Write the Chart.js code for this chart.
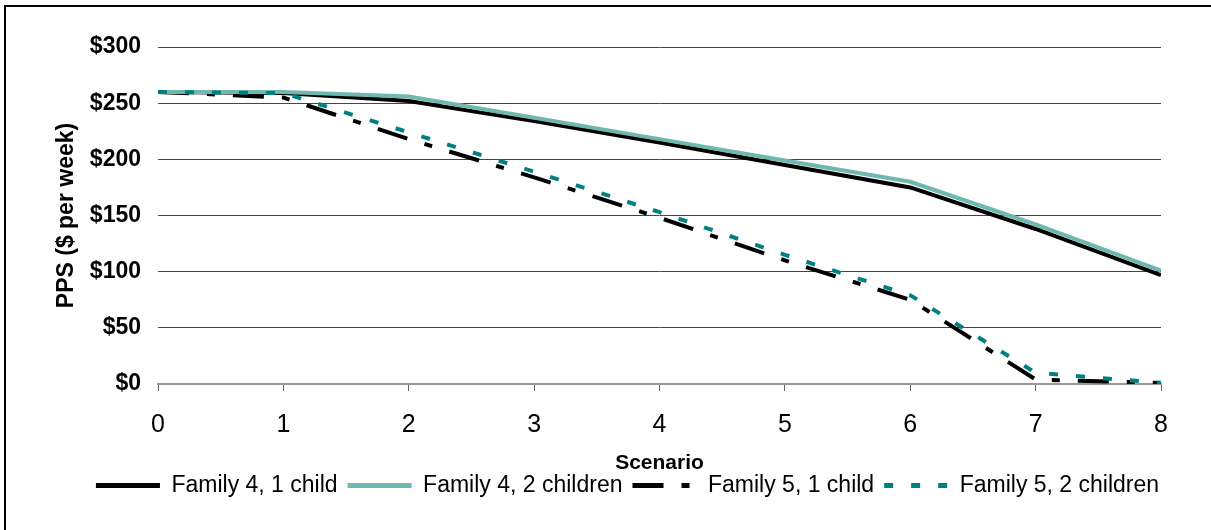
<!DOCTYPE html>
<html>
<head>
<meta charset="utf-8">
<script src="https://cdn.jsdelivr.net/npm/chart.js@4"></script>
<style>
    html, body { margin: 0; padding: 0; background: #fff; }
    #wrap { position: relative; width: 1211px; height: 530px; overflow: hidden; }
    #frame {
        position: absolute; left: 4px; top: 5px; width: 1300px; height: 600px;
        border-left: 2px solid #000; border-top: 2px solid #000;
    }
    canvas { position: absolute; left: 0; top: 0; }
</style>
</head>
<body>
<div id="wrap">
    <div id="frame"></div>
    <canvas id="ppsChart" width="1211" height="530"></canvas>
</div>
<script>
// Scenario numbers on the x axis
const scenarios = [0, 1, 2, 3, 4, 5, 6, 7, 8];

// PPS ($ per week)
const family4OneChild = [260, 259, 252, 234, 215, 195, 175, 138, 97];
const family4TwoChildren = [260, 260, 256, 237, 218, 199, 180, 142, 101];
const family5OneChild = [260, 255, 218, 184, 148, 110, 75, 4, 1];
const family5TwoChildren = [260, 259, 224, 189, 153, 115, 79, 10, 1];

const yTicks = [0, 50, 100, 150, 200, 250, 300];

const fontFamily = '"Liberation Sans", Arial, sans-serif';

function toPoints(values) {
    return scenarios.map((s, i) => ({ x: s, y: values[i] }));
}

const ctx = document.getElementById('ppsChart');

new Chart(ctx, {
    type: 'line',
    data: {
        datasets: [
            {
                label: 'Family 4, 1 child',
                data: toPoints(family4OneChild),
                borderColor: '#000000',
                backgroundColor: '#000000',
                borderWidth: 4,
                order: 3
            },
            {
                label: 'Family 4, 2 children',
                data: toPoints(family4TwoChildren),
                borderColor: '#6EB8B2',
                backgroundColor: '#6EB8B2',
                borderWidth: 4,
                order: 1
            },
            {
                label: 'Family 5, 1 child',
                data: toPoints(family5OneChild),
                borderColor: '#000000',
                backgroundColor: '#000000',
                borderWidth: 4,
                borderDash: [31, 18, 8, 18],
                order: 2
            },
            {
                label: 'Family 5, 2 children',
                data: toPoints(family5TwoChildren),
                borderColor: '#008080',
                backgroundColor: '#008080',
                borderWidth: 4,
                borderDash: [9, 18],
                order: 0
            }
        ]
    },
    options: {
        responsive: false,
        animation: false,
        devicePixelRatio: 1,
        layout: {
            padding: { left: 44, right: 0, top: 47, bottom: 23 }
        },
        elements: {
            point: { radius: 0 },
            line: { tension: 0, borderCapStyle: 'butt' }
        },
        plugins: {
            tooltip: { enabled: false },
            legend: {
                display: true,
                position: 'bottom',
                labels: {
                    color: '#000',
                    font: { family: fontFamily, size: 23 },
                    usePointStyle: true,
                    pointStyle: 'line',
                    pointStyleWidth: 64,
                    boxHeight: 23,
                    padding: 10,
                    sort: (a, b) => a.datasetIndex - b.datasetIndex,
                    generateLabels: function(chart) {
                        const items = Chart.defaults.plugins.legend.labels.generateLabels(chart);
                        items.forEach(item => {
                            const ds = chart.data.datasets[item.datasetIndex];
                            item.lineDash = ds.borderDash || [];
                            item.lineWidth = 5;
                            item.strokeStyle = ds.borderColor;
                        });
                        return items;
                    }
                }
            }
        },
        scales: {
            x: {
                type: 'linear',
                min: 0,
                max: 8,
                afterBuildTicks: function(scale) {
                    scale.ticks = scenarios.map(v => ({ value: v }));
                },
                afterFit: function(scale) {
                    scale.height = 80;
                },
                grid: {
                    display: true,
                    drawOnChartArea: false,
                    drawTicks: true,
                    tickLength: 7,
                    color: '#666'
                },
                border: { display: true, color: '#999', width: 2 },
                ticks: {
                    color: '#000',
                    padding: 19,
                    maxRotation: 0,
                    font: { family: fontFamily, size: 25 }
                },
                title: {
                    display: true,
                    text: 'Scenario',
                    color: '#000',
                    padding: { top: 0, bottom: -12 },
                    font: { family: fontFamily, size: 21, weight: 'bold' }
                }
            },
            y: {
                min: 0,
                max: 300,
                afterBuildTicks: function(scale) {
                    scale.ticks = yTicks.map(v => ({ value: v }));
                },
                afterFit: function(scale) {
                    scale.width = 114;
                },
                grid: {
                    drawTicks: false,
                    lineWidth: 1,
                    color: function(c) {
                        return c.tick && c.tick.value === 0 ? 'rgba(0,0,0,0)' : '#444';
                    }
                },
                border: { display: false },
                ticks: {
                    color: '#000',
                    padding: 17,
                    font: { family: fontFamily, size: 23, weight: 'bold' },
                    callback: function(value) {
                        return '$' + value;
                    }
                },
                title: {
                    display: true,
                    text: 'PPS ($ per week)',
                    color: '#000',
                    padding: { top: 9, bottom: 0 },
                    font: { family: fontFamily, size: 23, weight: 'bold' }
                }
            },
            // empty right-hand axis that only reserves the right margin
            yRight: {
                type: 'linear',
                position: 'right',
                display: true,
                afterFit: function(scale) {
                    scale.width = 50;
                },
                grid: { display: false },
                border: { display: false },
                ticks: { display: false }
            }
        }
    }
});
</script>
</body>
</html>
